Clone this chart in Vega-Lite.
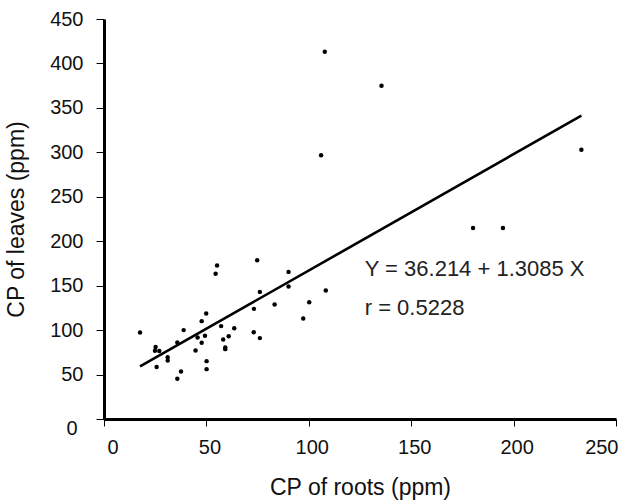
{
  "$schema": "https://vega.github.io/schema/vega-lite/v6.json",
  "width": 512,
  "height": 400,
  "autosize": "none",
  "padding": {"left": 104, "top": 19, "right": 6, "bottom": 85},
  "config": {
    "view": {"stroke": null},
    "font": "Liberation Sans",
    "axis": {
      "grid": false,
      "domainColor": "black",
      "domainWidth": 3,
      "tickColor": "black",
      "tickWidth": 1,
      "labelColor": "#111111",
      "labelFontSize": 20,
      "titleColor": "#111111",
      "titleFontSize": 23,
      "titleFontWeight": "normal",
      "labelFont": "Liberation Sans",
      "titleFont": "Liberation Sans"
    }
  },
  "datasets": {
    "points": [
      {"root": 17.6, "leaves": 97.4},
      {"root": 25.2, "leaves": 80.9},
      {"root": 24.9, "leaves": 76.7},
      {"root": 27.0, "leaves": 76.4},
      {"root": 25.7, "leaves": 58.4},
      {"root": 31.1, "leaves": 69.6},
      {"root": 31.1, "leaves": 65.9},
      {"root": 35.8, "leaves": 86.1},
      {"root": 38.9, "leaves": 100.0},
      {"root": 37.6, "leaves": 53.5},
      {"root": 35.8, "leaves": 45.3},
      {"root": 44.7, "leaves": 77.1},
      {"root": 45.7, "leaves": 91.7},
      {"root": 47.7, "leaves": 85.7},
      {"root": 47.7, "leaves": 110.1},
      {"root": 49.3, "leaves": 93.6},
      {"root": 49.9, "leaves": 118.7},
      {"root": 50.1, "leaves": 65.1},
      {"root": 50.1, "leaves": 56.1},
      {"root": 57.2, "leaves": 104.5},
      {"root": 58.2, "leaves": 89.5},
      {"root": 59.2, "leaves": 80.5},
      {"root": 59.2, "leaves": 78.6},
      {"root": 60.9, "leaves": 93.2},
      {"root": 63.6, "leaves": 102.2},
      {"root": 73.2, "leaves": 123.9},
      {"root": 73.1, "leaves": 97.7},
      {"root": 76.1, "leaves": 91.0},
      {"root": 83.3, "leaves": 128.8},
      {"root": 55.2, "leaves": 172.7},
      {"root": 54.5, "leaves": 163.3},
      {"root": 74.8, "leaves": 178.6},
      {"root": 90.1, "leaves": 165.5},
      {"root": 90.1, "leaves": 149.1},
      {"root": 76.1, "leaves": 143.0},
      {"root": 107.8, "leaves": 413.1},
      {"root": 135.5, "leaves": 374.9},
      {"root": 106.0, "leaves": 296.6},
      {"root": 233.1, "leaves": 303.0},
      {"root": 180.2, "leaves": 214.9},
      {"root": 194.8, "leaves": 214.9},
      {"root": 108.3, "leaves": 144.6},
      {"root": 100.2, "leaves": 131.4},
      {"root": 97.3, "leaves": 113.1}
    ],
    "fit": [
      {"root": 17.6, "leaves": 59.24},
      {"root": 233.1, "leaves": 341.23}
    ],
    "note": [
      {"root": 127.3, "leaves": 161.2, "label": "Y = 36.214 + 1.3085 X"},
      {"root": 127.3, "leaves": 117.0, "label": "r = 0.5228"}
    ]
  },
  "layer": [
    {
      "data": {"name": "points"},
      "mark": {"type": "circle", "size": 20, "color": "black", "opacity": 1},
      "encoding": {
        "x": {
          "field": "root",
          "type": "quantitative",
          "scale": {"domain": [0, 250], "nice": false, "zero": true},
          "axis": {
            "title": "CP of roots (ppm)",
            "values": [0, 50, 100, 150, 200, 250],
            "tickSize": 7,
            "labelPadding": 11,
            "titlePadding": 19,
            "labelFlush": false,
            "labelAlign": {
              "condition": [
                {"test": "datum.value === 0", "value": "left"},
                {"test": "datum.value === 250", "value": "right"}
              ],
              "value": "center"
            },
            "labelOffset": {
              "condition": {"test": "datum.value === 250", "value": 2},
              "value": 3
            }
          }
        },
        "y": {
          "field": "leaves",
          "type": "quantitative",
          "scale": {"domain": [0, 450], "nice": false, "zero": true},
          "axis": {
            "title": "CP of leaves (ppm)",
            "values": [0, 50, 100, 150, 200, 250, 300, 350, 400, 450],
            "tickSize": 8,
            "labelFlush": false,
            "labelPadding": {
              "condition": {"test": "datum.value === 0", "value": 19},
              "value": 13
            },
            "labelOffset": {
              "condition": {"test": "datum.value === 0", "value": 9},
              "value": 0
            },
            "titlePadding": 21
          }
        }
      }
    },
    {
      "data": {"name": "fit"},
      "mark": {"type": "line", "color": "black", "strokeWidth": 2.6},
      "encoding": {
        "x": {"field": "root", "type": "quantitative"},
        "y": {"field": "leaves", "type": "quantitative"}
      }
    },
    {
      "data": {"name": "note"},
      "mark": {"type": "text", "align": "left", "baseline": "alphabetic", "fontSize": 22, "color": "#222222", "font": "Liberation Sans"},
      "encoding": {
        "x": {"field": "root", "type": "quantitative"},
        "y": {"field": "leaves", "type": "quantitative"},
        "text": {"field": "label", "type": "nominal"}
      }
    }
  ]
}
